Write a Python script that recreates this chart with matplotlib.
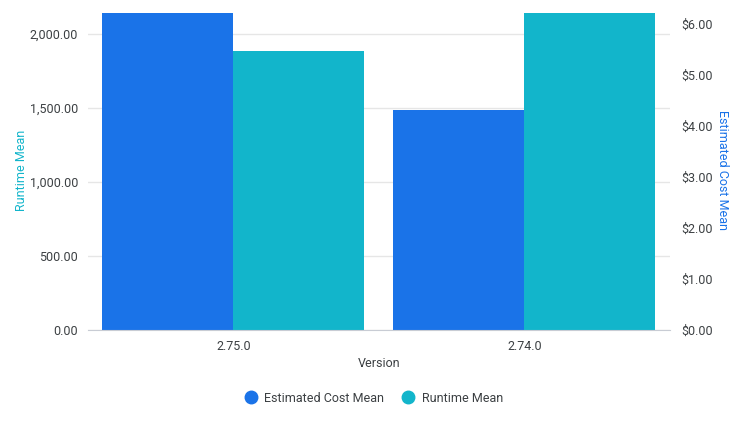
import numpy as np
import matplotlib.pyplot as plt
from matplotlib.ticker import FuncFormatter
from matplotlib.lines import Line2D

plt.rcParams['font.family'] = ['Roboto', 'DejaVu Sans']

versions = ["2.75.0", "2.74.0"]
cost_mean = [6.22, 4.31]
runtime_mean = [1885, 2142]

blue = "#1a73e8"
teal = "#12b5cb"
txt = "#3c4043"

fig = plt.figure(figsize=(7.45, 4.29), dpi=100)
ax = fig.add_axes([0.118, 0.2308, 0.781, 0.7389])
ax2 = ax.twinx()

x = np.arange(len(versions))
w = 0.45
ax2.bar(x - w / 2, cost_mean, w, color=blue, zorder=3)
ax.bar(x + w / 2, runtime_mean, w, color=teal, zorder=3)

ax.set_xlim(-0.5, 1.5)
ax.set_ylim(0, max(runtime_mean))
ax2.set_ylim(0, max(cost_mean))
ax.set_yticks([0, 500, 1000, 1500, 2000])
ax2.set_yticks([0, 1, 2, 3, 4, 5, 6])
ax.yaxis.set_major_formatter(FuncFormatter(lambda v, p: f"{v:,.2f}"))
ax2.yaxis.set_major_formatter(FuncFormatter(lambda v, p: f"${v:.2f}"))
ax.set_xticks(x)
ax.set_xticklabels(versions)

# gridlines from the left axis, kept under all bars
ax.grid(axis='y', color="#e6e6e6", linewidth=1, zorder=0)
ax.set_axisbelow(True)

for a in (ax, ax2):
    for s in a.spines.values():
        s.set_visible(False)
    a.tick_params(length=0, labelsize=9, colors=txt)
ax2.spines['bottom'].set_visible(True)
ax2.spines['bottom'].set_color("#c8ccd4")
ax2.spines['bottom'].set_zorder(5)
ax.tick_params(axis='y', pad=7)
ax2.tick_params(axis='y', pad=8)
ax.tick_params(axis='x', pad=7)

ax.set_ylabel("Runtime Mean", color=teal, fontsize=9)
ax.yaxis.set_label_coords(-0.103, 0.505)
ax2.set_ylabel("Estimated Cost Mean", color=blue, fontsize=9, rotation=270, va='center')
ax2.yaxis.set_label_coords(1.091, 0.505)
ax.set_xlabel("Version", color=txt, fontsize=9, labelpad=3)

handles = [Line2D([], [], marker='o', linestyle='', markersize=9, color=blue),
           Line2D([], [], marker='o', linestyle='', markersize=9, color=teal)]
leg = fig.legend(handles, ["Estimated Cost Mean", "Runtime Mean"], loc='center',
                 bbox_to_anchor=(373 / 745, 1 - 398 / 429), ncol=2, frameon=False,
                 fontsize=9, handletextpad=0.5, columnspacing=1.3, handlelength=1.2)
for t in leg.get_texts():
    t.set_color(txt)

fig.savefig("out.png", dpi=100)
